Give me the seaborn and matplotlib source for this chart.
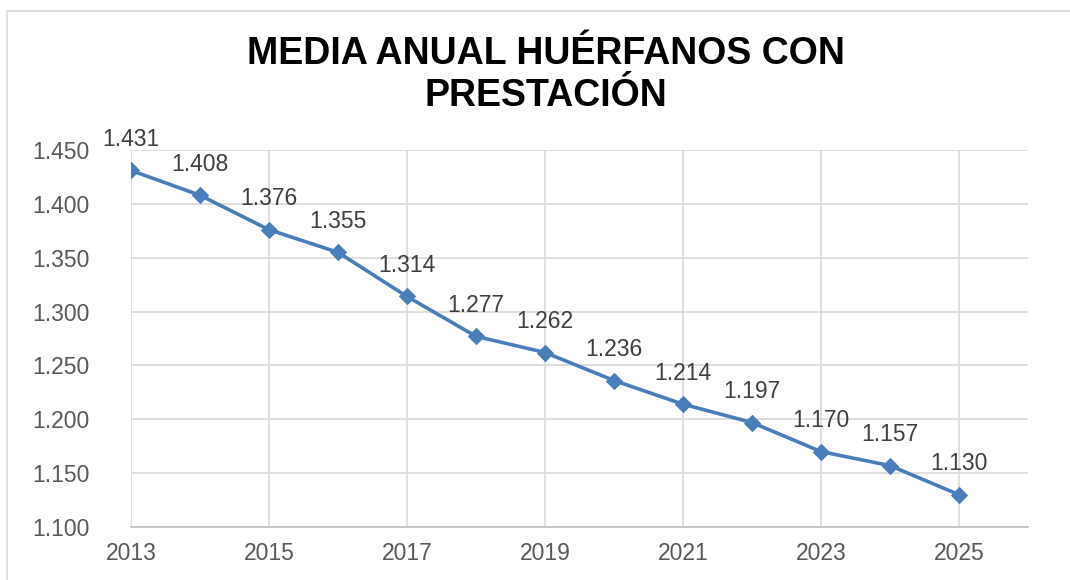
import numpy as np
import pandas as pd
import seaborn as sns
import matplotlib.pyplot as plt
from matplotlib.lines import Line2D

years = [2013, 2014, 2015, 2016, 2017, 2018, 2019, 2020, 2021, 2022, 2023, 2024, 2025]
huerfanos = [1431, 1408, 1376, 1355, 1314, 1277, 1262, 1236, 1214, 1197, 1170, 1157, 1130]
x_ticks = [2013, 2015, 2017, 2019, 2021, 2023, 2025]
y_ticks = [1100, 1150, 1200, 1250, 1300, 1350, 1400, 1450]
title = "MEDIA ANUAL HUÉRFANOS CON\nPRESTACIÓN"

def miles(v):
    # thousands with a dot, spanish style
    return f"{v:,}".replace(",", ".")

df = pd.DataFrame({"year": years, "value": huerfanos})

sns.set_theme(style="whitegrid")
plt.rcParams["font.family"] = ["Liberation Sans", "DejaVu Sans"]

fig = plt.figure(figsize=(10.7, 5.8), dpi=100)
ax = fig.add_axes([131 / 1070, 1 - 527 / 580, (1028 - 131) / 1070, (527 - 150) / 580])

color = "#4A7EBB"
sns.lineplot(data=df, x="year", y="value", ax=ax, color=color, linewidth=2.6,
             marker="D", markersize=8.5, markeredgecolor=color)

for x, y in zip(years, huerfanos):
    ax.annotate(miles(y), (x, y), xytext=(0, 14), textcoords="offset points",
                ha="center", va="bottom", fontsize=16.5, color="#404040")

ax.set_xlim(2013, 2026)
ax.set_ylim(1100, 1450)
ax.set_xticks(x_ticks)
ax.set_yticks(y_ticks)
ax.set_yticklabels([miles(v) for v in y_ticks])
ax.set_xlabel("")
ax.set_ylabel("")
ax.tick_params(axis="both", length=0, labelsize=16.5, labelcolor="#595959")
ax.tick_params(axis="y", pad=30)
ax.tick_params(axis="x", pad=11)
ax.grid(True, color="#D9D9D9", linewidth=1.2)
for side in ["top", "right", "left"]:
    ax.spines[side].set_visible(False)
ax.spines["bottom"].set_color("#BFBFBF")
ax.spines["bottom"].set_linewidth(1.2)

fig.text(0.51, 1 - 36 / 580, title, ha="center", va="top", fontsize=27,
         fontweight="bold", color="black", linespacing=1.22)

# chart border (cropped on right and bottom)
bx = 7 / 1070
by = 1 - 11 / 580
fig.add_artist(Line2D([bx, 1], [by, by], transform=fig.transFigure, color="#D9D9D9", linewidth=1.2))
fig.add_artist(Line2D([bx, bx], [0, by], transform=fig.transFigure, color="#D9D9D9", linewidth=1.2))

fig.savefig("out.png", dpi=100)
